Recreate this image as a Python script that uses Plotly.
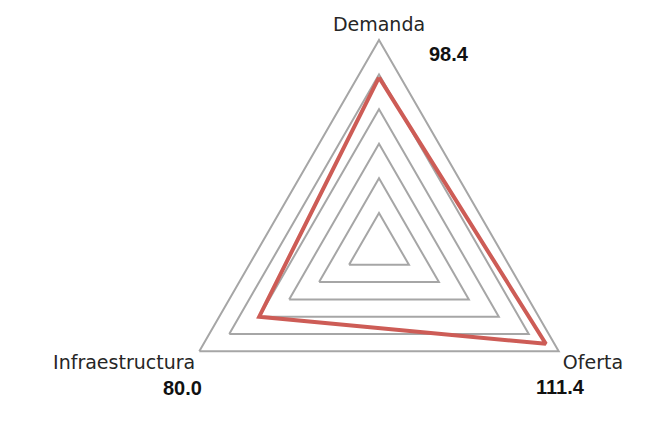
import plotly.graph_objects as go

# Dane
categories = ["Demanda", "Oferta", "Infraestructura"]
values = [98.4, 111.4, 80.0]
grid_ticks = [20, 40, 60, 80, 100, 120]

COLOR_LINE = "#cd5c56"
COLOR_GRID = "#a6a6a6"
COLOR_TEXT = "#262626"

W, H = 667, 447
TOP = 32
R = (H - TOP) / 2
CX = 371

fig = go.Figure()
fig.add_trace(go.Scatterpolar(
    r=values + values[:1],
    theta=categories + categories[:1],
    mode="lines",
    line=dict(color=COLOR_LINE, width=4),
    showlegend=False,
    hoverinfo="skip",
))

# etykiety wartości (pogrubione) przy kategoriach
label_pos = [(CX + 70, TOP + 14), (CX + 0.866 * R + 2, TOP + 1.5 * R + 36),
             (CX - 0.866 * R - 17, TOP + 1.5 * R + 37)]
for v, (px, py) in zip(values, label_pos):
    fig.add_annotation(
        x=px / W, y=1 - (py - TOP) / (H - TOP), xref="paper", yref="paper",
        text=f"<b>{v:.1f}</b>", showarrow=False,
        font=dict(family="Liberation Sans", size=20, color="#111111"),
        xanchor="center", yanchor="middle",
    )

fig.update_layout(
    width=W, height=H,
    margin=dict(l=0, r=0, t=TOP, b=0),
    paper_bgcolor="white", plot_bgcolor="white",
    font=dict(family="DejaVu Sans", size=19, color=COLOR_TEXT),
    polar=dict(
        domain=dict(x=[(CX - R) / W, (CX + R) / W], y=[0, 1]),
        bgcolor="white",
        gridshape="linear",
        radialaxis=dict(
            range=[0, 120], tickvals=grid_ticks, showticklabels=False,
            showline=False, ticks="", gridcolor=COLOR_GRID, gridwidth=1.6,
        ),
        angularaxis=dict(
            type="category", categoryarray=categories,
            rotation=90, direction="clockwise",
            showgrid=False, ticks="", showline=True,
            linecolor=COLOR_GRID, linewidth=2,
            tickfont=dict(family="DejaVu Sans", size=19, color=COLOR_TEXT),
        ),
    ),
)

fig.write_html("out.html")
